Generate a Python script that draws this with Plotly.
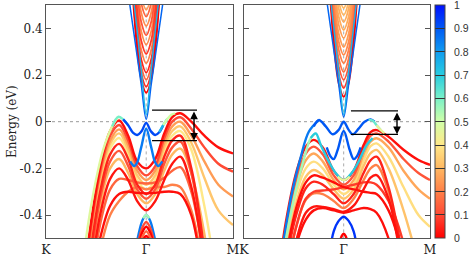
import plotly.graph_objects as go
from plotly.colors import sample_colorscale

# ---------------- colour scale (surface weight) ----------------
COLORSCALE = [[0.0, '#ff0000'], [0.1, '#ff4a35'], [0.2, '#ff8048'], [0.3, '#ffb862'],
              [0.4, '#ffe888'], [0.5, '#d0ffa8'], [0.6, '#78f0c8'], [0.7, '#28cce0'],
              [0.8, '#109cf0'], [0.9, '#0058f4'], [1.0, '#0010ff']]
CB_TICKS = [0, 0.1, 0.2, 0.3, 0.4, 0.5, 0.6, 0.7, 0.8, 0.9, 1]
CB_TEXT = ['0', '0.1', '0.2', '0.3', '0.4', '0.5', '0.6', '0.7', '0.8', '0.9', '1']

# k-path: K = -1, Gamma = 0, M = 0.866
K_TICKS = [-1.0, 0.0, 0.866]
K_LABELS = ['K', 'Γ', 'M']
E_TICKS = [-0.4, -0.2, 0, 0.2, 0.4]
E_LABELS = ['-0.4', '-0.2', '0', '0.2', '0.4']
Y_TITLE = 'Energy (eV)'

# ---------------- LEFT PANEL ----------------
KC = [-0.15, -0.1, -0.05, 0, 0.05, 0.1, 0.15]
left_cb = [
    [0.644, 0.354, 0.182, 0.124, 0.182, 0.354, 0.644],
    [0.67, 0.38, 0.208, 0.15, 0.208, 0.38, 0.67],
    [0.70, 0.41, 0.238, 0.18, 0.238, 0.41, 0.70],
    [0.73, 0.44, 0.268, 0.21, 0.268, 0.44, 0.73],
    [0.77, 0.48, 0.308, 0.25, 0.308, 0.48, 0.77],
    [0.81, 0.52, 0.348, 0.29, 0.348, 0.52, 0.81],
    [0.85, 0.56, 0.388, 0.33, 0.388, 0.56, 0.85],
    [0.89, 0.60, 0.428, 0.37, 0.428, 0.60, 0.89],
    [0.93, 0.64, 0.468, 0.41, 0.468, 0.64, 0.93],
    [0.97, 0.68, 0.508, 0.45, 0.508, 0.68, 0.97],
    [1.00, 0.71, 0.538, 0.48, 0.538, 0.71, 1.00],
]
left_cb_w = [0.0, 0.06, 0.15, 0.05, 0.2, 0.08, 0.22, 0.12, 0.22, 0.15, 0.25]

KV = [-0.7, -0.58, -0.46, -0.36, -0.27, -0.18, -0.09, 0, 0.09, 0.18, 0.26, 0.34, 0.45, 0.58, 0.72, 0.866]
left_vb = [
    [-0.95, -0.52, -0.195, -0.04, 0.005, -0.06, -0.17, -0.2, -0.16, -0.05, 0.02, 0.036, 0.0, -0.06, -0.11, -0.136],
    [-0.97, -0.54, -0.215, -0.06, -0.014, -0.08, -0.19, -0.23, -0.19, -0.07, 0.0, 0.019, -0.03, -0.11, -0.18, -0.214],
    [-1.0, -0.56, -0.23, -0.08, -0.033, -0.1, -0.21, -0.25, -0.21, -0.09, -0.02, 0.0, -0.06, -0.17, -0.27, -0.32],
    [-1.0, -0.58, -0.25, -0.095, -0.05, -0.12, -0.23, -0.27, -0.23, -0.11, -0.04, -0.02, -0.09, -0.24, -0.38, -0.443],
    [-1.0, -0.6, -0.27, -0.115, -0.07, -0.14, -0.25, -0.29, -0.25, -0.13, -0.06, -0.04, -0.12, -0.36, -0.7, -0.95],
    [-1.0, -0.63, -0.3, -0.14, -0.095, -0.16, -0.27, -0.31, -0.27, -0.15, -0.08, -0.06, -0.2, -0.55, -1.0, -1.2],
    [-1.0, -0.66, -0.33, -0.17, -0.125, -0.19, -0.29, -0.33, -0.29, -0.18, -0.11, -0.085, -0.22, -0.56, -1.0, -1.2],
    [-1.0, -0.69, -0.36, -0.2, -0.16, -0.22, -0.31, -0.35, -0.31, -0.21, -0.14, -0.115, -0.22, -0.48, -0.9, -1.1],
    [-1.1, -0.73, -0.4, -0.245, -0.2, -0.25, -0.34, -0.38, -0.34, -0.25, -0.18, -0.15, -0.28, -0.6, -1.0, -1.2],
    [-1.1, -0.77, -0.44, -0.29, -0.245, -0.25, -0.26, -0.265, -0.26, -0.24, -0.21, -0.195, -0.3, -0.6, -1.0, -1.2],
    [-1.1, -0.8, -0.5, -0.36, -0.31, -0.3, -0.305, -0.307, -0.305, -0.3, -0.3, -0.31, -0.4, -0.7, -1.1, -1.3],
    [-1.2, -0.85, -0.55, -0.4, -0.34, -0.3, -0.28, -0.29, -0.28, -0.28, -0.27, -0.28, -0.38, -0.65, -1.0, -1.2],
]
left_vb_w = [0.02, 0.1, 0.25, 0.33, 0.4, 0.05, 0.12, 0.3, 0.03, 0.15, 0.02, 0.2]

# surface-state pieces: (k list, E list, weight)
left_surf = [
    ([-0.62, -0.54, -0.43, -0.34, -0.28], [-0.56, -0.336, -0.121, -0.02, 0.021], 0.47),
    ([-0.34, -0.28, -0.23, -0.18], [-0.02, 0.021, 0.01, -0.015], 0.6),
    ([-0.23, -0.18, -0.13, -0.09, -0.045, 0, 0.045, 0.09, 0.13, 0.17],
     [0.01, -0.015, -0.048, -0.057, -0.04, -0.005, -0.04, -0.057, -0.045, -0.015], 0.92),
    ([0.13, 0.17, 0.21], [-0.045, -0.015, 0.012], 0.75),
    ([0.17, 0.21, 0.25, 0.29], [-0.015, 0.012, 0.03, 0.036], 0.5),
    ([-0.16, -0.12, -0.09, -0.05, 0, 0.05, 0.09, 0.12, 0.16],
     [-0.17, -0.19, -0.175, -0.11, -0.03, -0.11, -0.175, -0.19, -0.17], 0.85),
    ([-0.12, -0.08, -0.04, 0, 0.04, 0.08, 0.12], [-0.58, -0.49, -0.425, -0.40, -0.425, -0.49, -0.58], 0.85),
    ([-0.03, 0, 0.03], [-0.414, -0.40, -0.414], 0.55),
]
left_low_red = [
    ([-0.08, -0.04, 0, 0.04, 0.08], [-0.52, -0.455, -0.43, -0.455, -0.52], 0.1),
    ([-0.08, -0.04, 0, 0.04, 0.08], [-0.54, -0.475, -0.45, -0.475, -0.54], 0.0),
    ([-0.08, -0.04, 0, 0.04, 0.08], [-0.56, -0.495, -0.47, -0.495, -0.56], 0.15),
    ([-0.08, -0.04, 0, 0.04, 0.08], [-0.58, -0.515, -0.49, -0.515, -0.58], 0.0),
]
left_cone = [
    ([-0.17, -0.11, -0.05, 0, 0.05, 0.11, 0.17], [0.52, 0.34, 0.16, 0.01, 0.16, 0.34, 0.52], 0.88),
    ([-0.125, -0.08, -0.04, 0, 0.04, 0.08, 0.125], [0.52, 0.35, 0.18, 0.03, 0.18, 0.35, 0.52], 0.75),
]

# ---------------- RIGHT PANEL ----------------
right_cb = [
    [0.627, 0.337, 0.165, 0.107, 0.165, 0.337, 0.627],
    [0.664, 0.374, 0.202, 0.144, 0.202, 0.374, 0.664],
    [0.699, 0.409, 0.237, 0.179, 0.237, 0.409, 0.699],
    [0.733, 0.443, 0.271, 0.213, 0.271, 0.443, 0.733],
    [0.77, 0.48, 0.308, 0.25, 0.308, 0.48, 0.77],
    [0.806, 0.516, 0.344, 0.286, 0.344, 0.516, 0.806],
    [0.84, 0.55, 0.378, 0.32, 0.378, 0.55, 0.84],
    [0.878, 0.588, 0.416, 0.358, 0.416, 0.588, 0.878],
    [0.913, 0.623, 0.451, 0.393, 0.451, 0.623, 0.913],
    [0.947, 0.657, 0.485, 0.427, 0.485, 0.657, 0.947],
    [0.977, 0.687, 0.515, 0.457, 0.515, 0.687, 0.977],
    [1.0, 0.717, 0.545, 0.487, 0.545, 0.717, 1.0],
]
right_cb_w = [0.0, 0.08, 0.12, 0.18, 0.2, 0.22, 0.25, 0.25, 0.28, 0.28, 0.3, 0.3]

KR = [-0.7, -0.58, -0.47, -0.38, -0.3, -0.21, -0.1, 0, 0.1, 0.2, 0.27, 0.33, 0.45, 0.6, 0.75, 0.866]
right_vb = [
    [-0.8, -0.43, -0.208, -0.107, -0.078, -0.11, -0.21, -0.25, -0.21, -0.1, -0.045, -0.036, -0.064, -0.12, -0.164, -0.185],
    [-0.83, -0.46, -0.24, -0.136, -0.107, -0.14, -0.23, -0.27, -0.23, -0.12, -0.06, -0.05, -0.085, -0.16, -0.22, -0.25],
    [-0.86, -0.49, -0.27, -0.165, -0.136, -0.17, -0.25, -0.29, -0.25, -0.14, -0.085, -0.071, -0.11, -0.21, -0.29, -0.33],
    [-0.9, -0.52, -0.3, -0.2, -0.171, -0.2, -0.27, -0.31, -0.27, -0.165, -0.105, -0.093, -0.15, -0.28, -0.4, -0.45],
    [-0.93, -0.56, -0.34, -0.236, -0.207, -0.23, -0.29, -0.33, -0.29, -0.19, -0.135, -0.121, -0.2, -0.38, -0.6, -0.75],
    [-1.0, -0.61, -0.39, -0.285, -0.257, -0.27, -0.31, -0.35, -0.31, -0.22, -0.165, -0.15, -0.28, -0.6, -1.0, -1.2],
    [-1.0, -0.66, -0.44, -0.335, -0.307, -0.31, -0.34, -0.37, -0.33, -0.25, -0.2, -0.186, -0.3, -0.62, -1.0, -1.2],
    [-1.1, -0.72, -0.5, -0.39, -0.364, -0.365, -0.375, -0.386, -0.36, -0.29, -0.24, -0.229, -0.33, -0.65, -1.0, -1.2],
    [-0.95, -0.58, -0.36, -0.26, -0.23, -0.24, -0.26, -0.28, -0.29, -0.3, -0.305, -0.31, -0.38, -0.58, -0.9, -1.1],
    [-1.0, -0.66, -0.44, -0.33, -0.3, -0.295, -0.29, -0.28, -0.27, -0.26, -0.26, -0.27, -0.34, -0.52, -0.85, -1.1],
    [-1.1, -0.75, -0.52, -0.42, -0.38, -0.37, -0.38, -0.39, -0.38, -0.37, -0.375, -0.39, -0.5, -0.8, -1.1, -1.3],
]
right_vb_w = [0.02, 0.12, 0.27, 0.38, 0.32, 0.05, 0.2, 0.03, 0.02, 0.08, 0.02]

right_surf = [
    ([-0.62, -0.52, -0.43, -0.35, -0.25], [-0.56, -0.307, -0.15, -0.043, 0.007], 0.85),
    ([-0.6, -0.5, -0.4, -0.33, -0.28], [-0.55, -0.33, -0.16, -0.07, -0.05], 0.55),
    ([-0.33, -0.28, -0.23, -0.15, -0.08, 0, 0.08, 0.15, 0.23, 0.29],
     [-0.07, -0.05, -0.1, -0.17, -0.22, -0.25, -0.22, -0.17, -0.1, -0.07], 0.7),
    ([-0.06, 0, 0.06], [-0.235, -0.25, -0.235], 0.45),
    ([-0.3, -0.25, -0.18, -0.11, -0.05, 0, 0.05, 0.09, 0.15, 0.21, 0.27, 0.31],
     [-0.02, 0.007, -0.02, -0.054, -0.035, 0.0, -0.035, -0.054, -0.03, 0.0, 0.01, 0.0], 0.9),
    ([0.25, 0.29, 0.33, 0.37], [0.008, 0.005, -0.015, -0.035], 0.62),
    ([0.33, 0.37, 0.41], [-0.015, -0.035, -0.05], 0.45),
    ([-0.17, -0.13, -0.1, -0.06, 0, 0.06, 0.1, 0.13, 0.17],
     [-0.11, -0.15, -0.16, -0.12, -0.04, -0.12, -0.16, -0.15, -0.11], 0.9),
    ([-0.14, -0.1, -0.05, 0, 0.05, 0.1, 0.14], [-0.56, -0.47, -0.425, -0.407, -0.425, -0.47, -0.56], 0.95),
    ([-0.04, -0.02, 0, 0.02, 0.04], [-0.52, -0.49, -0.48, -0.49, -0.52], 0.0),
]
right_cone = [
    ([-0.17, -0.11, -0.05, 0, 0.05, 0.11, 0.17], [0.52, 0.34, 0.16, 0.02, 0.16, 0.34, 0.52], 0.88),
    ([-0.13, -0.085, -0.04, 0, 0.04, 0.085, 0.13], [0.52, 0.35, 0.18, 0.03, 0.18, 0.35, 0.52], 0.75),
]

# gap markers: (k_start, k_end, k_arrow, E_top, E_bottom)
left_gap = (0.058, 0.507, 0.477, 0.05, -0.081)
right_gap = (0.073, 0.545, 0.535, 0.046, -0.054)


def col(w):
    return sample_colorscale(COLORSCALE, [w])[0]


fig = go.Figure()


def band(xa, ya, k, e, w, width=2.6):
    fig.add_trace(go.Scatter(x=k, y=e, xaxis=xa, yaxis=ya, mode='lines',
                             line=dict(color=col(w), width=width, shape='spline'),
                             hoverinfo='skip', showlegend=False))


for xa, ya, kv, vb, vbw, kc, cb, cbw, surf, cone in [
        ('x', 'y', KV, left_vb, left_vb_w, KC, left_cb, left_cb_w, left_surf + left_low_red, left_cone),
        ('x2', 'y2', KR, right_vb, right_vb_w, KC, right_cb, right_cb_w, right_surf, right_cone)]:
    order = sorted(range(len(vb)), key=lambda i: -vbw[i])
    for i in order:
        band(xa, ya, kv, vb[i], vbw[i], width=2.4)
    for i in sorted(range(len(cb)), key=lambda i: -cbw[i]):
        band(xa, ya, kc, cb[i], cbw[i], width=1.8)
    for k, e, w in cone:
        band(xa, ya, k, e, w, width=1.5)
    for k, e, w in surf:
        band(xa, ya, k, e, w, width=2.4)

ydom = [0.0724, 0.9805]

# colour bar carrier (point lies outside the visible energy range)
fig.add_trace(go.Scatter(
    x=[0], y=[5], xaxis='x', yaxis='y', mode='markers', hoverinfo='skip', showlegend=False,
    marker=dict(color=[0], colorscale=COLORSCALE, cmin=0, cmax=1, size=1, showscale=True,
                colorbar=dict(x=435 / 469, xanchor='left', y=(ydom[0] + ydom[1]) / 2, yanchor='middle',
                              len=ydom[1] - ydom[0], lenmode='fraction', thickness=10,
                              outlinewidth=1, outlinecolor='#444',
                              tickvals=CB_TICKS, ticks='inside', showticklabels=False,
                              ticklen=10, tickcolor='#333', tickwidth=1,
                              xpad=0, ypad=0))))

serif = 'DejaVu Serif'
shapes = []
annotations = [dict(text=Y_TITLE, textangle=-90, x=12 / 469, y=0.525, xref='paper', yref='paper',
                    xanchor='center', yanchor='middle', showarrow=False,
                    font=dict(family=serif, size=12, color='#222'))]
for v, t in zip(CB_TICKS, CB_TEXT):
    annotations.append(dict(text=t, x=452 / 469, y=ydom[0] + v * (ydom[1] - ydom[0]),
                            xref='paper', yref='paper', xanchor='left', yanchor='middle',
                            showarrow=False,
                            font=dict(family='Liberation Sans', size=10.5, color='#333')))
for xr, yr, gap in [('x', 'y', left_gap), ('x2', 'y2', right_gap)]:
    shapes.append(dict(type='line', xref=xr, yref=yr, x0=-1, x1=0.866, y0=0, y1=0,
                       line=dict(color='#999', width=1, dash='dot'), layer='below'))
    shapes.append(dict(type='line', xref=xr, yref=yr, x0=0, x1=0, y0=-0.5, y1=0.5,
                       line=dict(color='#aaa', width=1, dash='dot'), layer='below'))
    k0, k1, ka, et, eb = gap
    for ee in (et, eb):
        shapes.append(dict(type='line', xref=xr, yref=yr, x0=k0, x1=k1, y0=ee, y1=ee,
                           line=dict(color='black', width=1.3)))
    annotations.append(dict(x=ka, y=eb, ax=ka, ay=et, xref=xr, yref=yr, axref=xr, ayref=yr,
                            text='', showarrow=True, arrowhead=2, arrowsize=1.1, arrowwidth=1.4,
                            startarrowhead=2, startarrowsize=1.1, arrowside='end+start',
                            arrowcolor='black'))

common_x = dict(range=[-1, 0.866], tickvals=K_TICKS, ticktext=K_LABELS, ticks='',
                showgrid=False, zeroline=False, showline=True, linecolor='#555', linewidth=1,
                mirror=True, tickfont=dict(family=serif, size=12.5, color='#222'), automargin=False,
                ticklabelstandoff=0)
common_y = dict(range=[-0.5, 0.5], tickvals=E_TICKS, ticktext=E_LABELS, ticks='inside',
                ticklen=5, tickcolor='#555', showgrid=False, zeroline=False, showline=True,
                linecolor='#555', linewidth=1, mirror='ticks',
                tickfont=dict(family=serif, size=12, color='#222'), automargin=False)

fig.update_layout(
    width=469, height=257, margin=dict(l=0, r=0, t=0, b=0),
    paper_bgcolor='white', plot_bgcolor='white',
    xaxis=dict(domain=[46 / 469, 233 / 469], anchor='y', **common_x),
    xaxis2=dict(domain=[244 / 469, 430 / 469], anchor='y2', **common_x),
    yaxis=dict(domain=ydom, anchor='x', **common_y),
    yaxis2=dict(domain=ydom, anchor='x2', showticklabels=False, **common_y),
    shapes=shapes, annotations=annotations, showlegend=False,
)

fig.write_html('out.html', config={'displayModeBar': False},
               post_script="document.body.style.margin='0';")
